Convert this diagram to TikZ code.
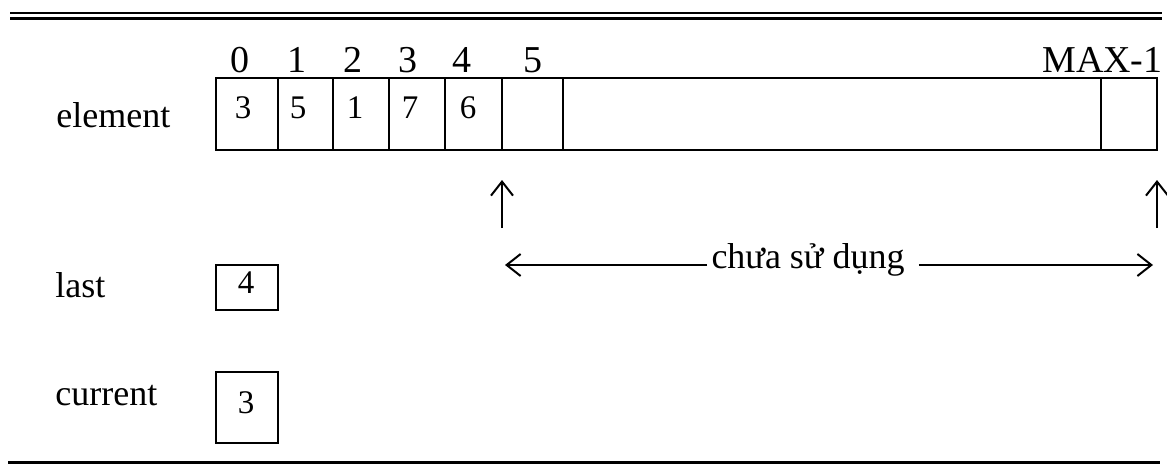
\documentclass[tikz,border=0pt]{standalone}
\usepackage{fontspec}
\setmainfont{Liberation Serif}
\usetikzlibrary{arrows.meta}

\begin{document}
\begin{tikzpicture}[x=0.5pt,y=-0.5pt,
  lbl/.style={font=\fontsize{18}{21}\selectfont, inner sep=0pt, anchor=base west},
  idx/.style={font=\fontsize{19}{22}\selectfont, inner sep=0pt, anchor=base},
  val/.style={font=\fontsize{16.5}{19}\selectfont, inner sep=0pt, anchor=base},
  cell/.style={line width=1pt},
  tip/.style={-{Straight Barb[length=7pt,width=11pt]}, line width=1pt}]
\useasboundingbox (0,0) rectangle (1167,466);

% rules at top and bottom
\draw[line width=1.25pt] (10,13) -- (1162,13);
\draw[line width=1.6pt] (10,18.5) -- (1162,18.5);
\draw[line width=1.5pt] (8,462.5) -- (1160,462.5);

% the array
\draw[cell] (216,78) rectangle (1157,150);
\foreach \x in {278,333,389,445,502,563,1101}
  \draw[cell] (\x,78) -- (\x,150);

\foreach \x/\n in {240/0,297/1,353/2,408/3,462/4,533/5}
  \node[idx] (i\n) at (\x,72) {\n};
\node[idx, anchor=base east] (imax) at (1163,72) {MAX-1};

\foreach \x/\v [count=\i] in {243/3,298/5,355/1,410/7,468/6}
  \node[val] (v\i) at (\x,118) {\v};

% names
\node[lbl] (element) at (56,127) {element};
\node[lbl] (last) at (55,297) {last};
\node[lbl] (current) at (55,405) {current};

% last, current
\draw[cell] (216,265) rectangle (278,310);
\node[val] (lastval) at (246,293) {4};
\draw[cell] (216,372) rectangle (278,443);
\node[val] (curval) at (246,413) {3};

% unused part
\coordinate (lo) at (502,228);
\coordinate (lt) at (502,180);
\coordinate (ro) at (1157,228);
\coordinate (rt) at (1157,180);
\coordinate (la) at (505,265);
\coordinate (ra) at (1153,265);
\node[lbl, anchor=base, inner xsep=2pt] (unused) at (808,268) {chưa sử dụng};

\draw[tip] (lo) -- (lt);
\draw[tip] (ro) -- (rt);
\draw[tip] (unused.west |- la) -- (la);
\draw[tip] ([xshift=5]unused.east |- ra) -- (ra);

\end{tikzpicture}
\end{document}
